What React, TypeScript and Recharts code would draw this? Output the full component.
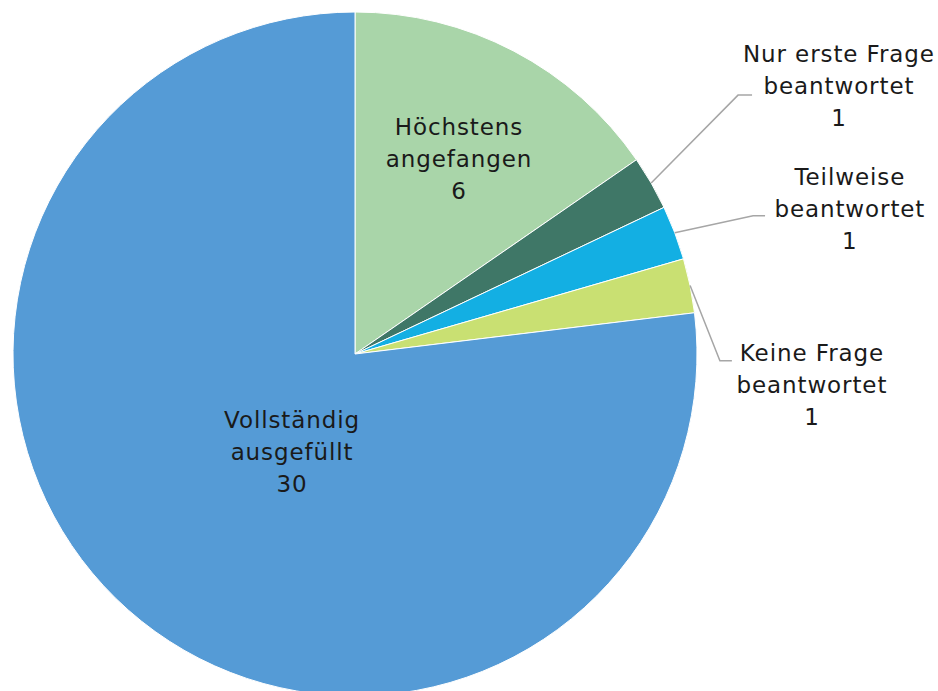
import { PieChart, Pie, Cell } from "recharts";

const categories = [
  "Höchstens angefangen",
  "Nur erste Frage beantwortet",
  "Teilweise beantwortet",
  "Keine Frage beantwortet",
  "Vollständig ausgefüllt",
];
const labelLines = [
  ["Höchstens", "angefangen"],
  ["Nur erste Frage", "beantwortet"],
  ["Teilweise", "beantwortet"],
  ["Keine Frage", "beantwortet"],
  ["Vollständig", "ausgefüllt"],
];
const counts = [6, 1, 1, 1, 30];
const colors = ["#A9D5A9", "#3F7767", "#13AFE3", "#C9E072", "#559BD6"];

// label layout in units of the outer radius, relative to the pie centre
// text: centre of the middle line; elbow: leader line bend (outside labels only)
const labelLayout = [
  { text: [0.304, -0.57] },
  { text: [1.415, -0.784], elbow: [1.12, -0.757], end: 1.161 },
  { text: [1.447, -0.424], elbow: [1.164, -0.404], end: 1.199 },
  { text: [1.336, 0.091], elbow: [1.067, 0.02], end: 1.102 },
  { text: [-0.184, 0.287] },
];

const data = categories.map((name, i) => ({ name, value: counts[i] }));

const RAD = Math.PI / 180;
const LINE_H = 32;

function renderLabel(props: any) {
  const { cx, cy, midAngle, outerRadius, index, value } = props;
  const lay = labelLayout[index];
  const tx = cx + lay.text[0] * outerRadius;
  const ty = cy + lay.text[1] * outerRadius;
  const lines = [...labelLines[index], String(value)];
  let leader = null;
  if (lay.elbow) {
    const sx = cx + outerRadius * Math.cos(-midAngle * RAD);
    const sy = cy + outerRadius * Math.sin(-midAngle * RAD);
    const ex = cx + lay.elbow[0] * outerRadius;
    const ey = cy + lay.elbow[1] * outerRadius;
    const hx = cx + lay.end * outerRadius;
    leader = (
      <polyline
        points={`${sx},${sy} ${ex},${ey} ${hx},${ey}`}
        fill="none"
        stroke="#A6A6A6"
        strokeWidth={1.5}
      />
    );
  }
  return (
    <g key={`lbl-${index}`}>
      {leader}
      <text
        x={tx}
        y={ty - LINE_H}
        textAnchor="middle"
        dominantBaseline="central"
        fill="#1a1a1a"
        fontSize={23}
        letterSpacing={0.9}
        fontFamily="DejaVu Sans, sans-serif"
      >
        {lines.map((l, k) => (
          <tspan key={k} x={tx} dy={k === 0 ? 0 : LINE_H}>
            {l}
          </tspan>
        ))}
      </text>
    </g>
  );
}

export default function App() {
  return (
    <div style={{ position: "absolute", left: 0, top: 0, width: 938, height: 691, background: "#fff" }}>
      <PieChart width={938} height={691} margin={{ top: 0, right: 0, bottom: 0, left: 0 }}>
        <Pie
          data={data}
          dataKey="value"
          nameKey="name"
          cx={355}
          cy={354}
          outerRadius={342}
          startAngle={90}
          endAngle={-270}
          stroke="#fff"
          strokeWidth={1}
          label={renderLabel}
          labelLine={false}
          isAnimationActive={false}
        >
          {data.map((d, i) => (
            <Cell key={d.name} fill={colors[i]} />
          ))}
        </Pie>
      </PieChart>
    </div>
  );
}
